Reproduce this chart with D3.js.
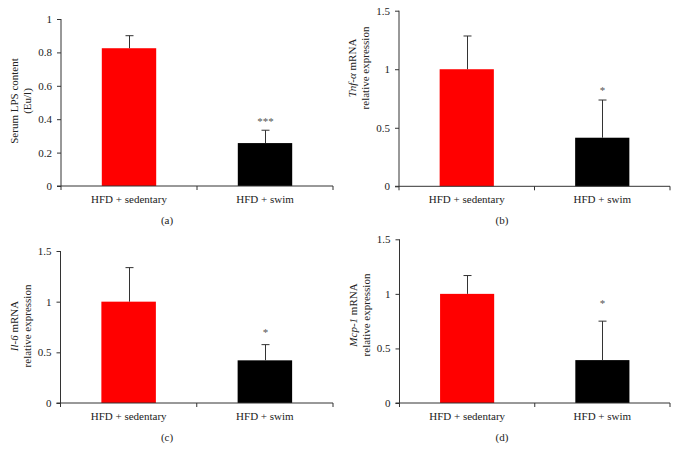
<!DOCTYPE html>
<html><head><meta charset="utf-8">
<script src="https://cdn.jsdelivr.net/npm/d3@7"></script>
<style>body{margin:0;background:#fff}svg{display:block}text{font-family:"Liberation Serif","Times New Roman",serif;fill:#222}</style>
</head><body>
<script>
const categories = ["HFD + sedentary", "HFD + swim"];
const barColors = ["#ff0000", "#000000"];

const lpsValues = [0.825, 0.257];
const lpsErrors = [0.075, 0.077];
const lpsStars = ["", "***"];
const lpsStarAt = [0, 0.41];
const lpsTicks = [0, 0.2, 0.4, 0.6, 0.8, 1];

const tnfValues = [1.0, 0.415];
const tnfErrors = [0.284, 0.322];
const tnfStars = ["", "*"];
const tnfStarAt = [0, 0.85];
const tnfTicks = [0, 0.5, 1, 1.5];

const il6Values = [1.0, 0.421];
const il6Errors = [0.336, 0.155];
const il6Stars = ["", "*"];
const il6StarAt = [0, 0.73];
const il6Ticks = [0, 0.5, 1, 1.5];

const mcpValues = [1.0, 0.393];
const mcpErrors = [0.168, 0.357];
const mcpStars = ["", "*"];
const mcpStarAt = [0, 0.94];
const mcpTicks = [0, 0.5, 1, 1.5];

const panels = [
  {values: lpsValues, errors: lpsErrors, stars: lpsStars, starAt: lpsStarAt, ticks: lpsTicks, max: 1,
   label: [[["Serum LPS content", false]], [["(Eu/l)", false]]], tag: "(a)",
   box: {l: 61, r: 333, t: 19, b: 186}, labelY: 101, tagX: 167},
  {values: tnfValues, errors: tnfErrors, stars: tnfStars, starAt: tnfStarAt, ticks: tnfTicks, max: 1.5,
   label: [[["Tnf-α", true], [" mRNA", false]], [["relative expression", false]]], tag: "(b)",
   box: {l: 399, r: 670, t: 10.7, b: 186.3}, labelY: 68, tagX: 502},
  {values: il6Values, errors: il6Errors, stars: il6Stars, starAt: il6StarAt, ticks: il6Ticks, max: 1.5,
   label: [[["Il-6", true], [" mRNA", false]], [["relative expression", false]]], tag: "(c)",
   box: {l: 60.5, r: 333, t: 251, b: 403}, labelY: 326, tagX: 167},
  {values: mcpValues, errors: mcpErrors, stars: mcpStars, starAt: mcpStarAt, ticks: mcpTicks, max: 1.5,
   label: [[["Mcp-1", true], [" mRNA", false]], [["relative expression", false]]], tag: "(d)",
   box: {l: 399.5, r: 670, t: 239.3, b: 403}, labelY: 315, tagX: 502}
];

const svg = d3.select("body").append("svg").attr("width", 678).attr("height", 459);
const axisColor = "#333";

panels.forEach(p => {
  const g = svg.append("g");
  const {l, r, t, b} = p.box;
  const x = d3.scaleBand().domain(categories).range([l, r]).paddingInner(0.6).paddingOuter(0.3);
  const y = d3.scaleLinear().domain([0, p.max]).range([b, t]);

  // bars
  g.selectAll("rect.bar").data(categories).join("rect")
    .attr("x", d => x(d)).attr("width", x.bandwidth())
    .attr("y", (d, i) => y(p.values[i])).attr("height", (d, i) => b - y(p.values[i]))
    .attr("fill", (d, i) => barColors[i]);

  // error bars (upper only)
  categories.forEach((c, i) => {
    const cx = Math.round(x(c) + x.bandwidth() / 2) + 0.5;
    const top = y(p.values[i] + p.errors[i]);
    g.append("line").attr("x1", cx).attr("x2", cx).attr("y1", y(p.values[i])).attr("y2", top)
      .attr("stroke", "#333").attr("stroke-width", 1);
    g.append("line").attr("x1", cx - 4).attr("x2", cx + 4).attr("y1", top).attr("y2", top)
      .attr("stroke", "#333").attr("stroke-width", 1);
    if (p.stars[i]) {
      g.append("text").attr("x", cx).attr("y", y(p.starAt[i]) + 7)
        .attr("text-anchor", "middle").attr("font-size", 11).style("fill", "#555").text(p.stars[i]);
    }
  });

  // y axis
  const yAxis = d3.axisLeft(y).tickValues(p.ticks).tickSize(4).tickPadding(5)
    .tickFormat(d => d3.format("")(d));
  const ya = g.append("g").attr("transform", `translate(${l},0)`).call(yAxis);
  ya.select(".domain").remove();
  ya.selectAll("line").attr("stroke", axisColor);
  ya.selectAll("text").attr("font-size", 11).style("font-family", '"Liberation Serif", serif').style("fill", "#222");
  g.append("line").attr("x1", l).attr("x2", l).attr("y1", y(p.max)).attr("y2", b + 4).attr("stroke", axisColor);

  // x axis
  g.append("line").attr("x1", l - 4).attr("x2", r).attr("y1", b).attr("y2", b).attr("stroke", axisColor);
  const xb = [x.range()[0] + (x.range()[1] - x.range()[0]) / 2, x.range()[1]];
  xb.forEach(xx => g.append("line").attr("x1", xx).attr("x2", xx).attr("y1", b).attr("y2", b + 4).attr("stroke", axisColor));
  g.selectAll("text.cat").data(categories).join("text").attr("class", "cat")
    .attr("x", d => x(d) + x.bandwidth() / 2).attr("y", b + 17)
    .attr("text-anchor", "middle").attr("font-size", 11).text(d => d);

  // y label
  const lab = g.append("text").attr("transform", `translate(${l},${p.labelY}) rotate(-90)`)
    .attr("text-anchor", "middle").attr("font-size", 11);
  p.label.forEach((line, li) => {
    line.forEach((seg, si) => {
      const ts = lab.append("tspan").text(seg[0]);
      if (si === 0) ts.attr("x", 0).attr("y", li === 0 ? -43 : -30);
      if (seg[1]) ts.style("font-style", "italic");
    });
  });

  // panel tag
  g.append("text").attr("x", p.tagX).attr("y", b + 38).attr("text-anchor", "middle")
    .attr("font-size", 11).text(p.tag);
});
</script>
</body></html>
